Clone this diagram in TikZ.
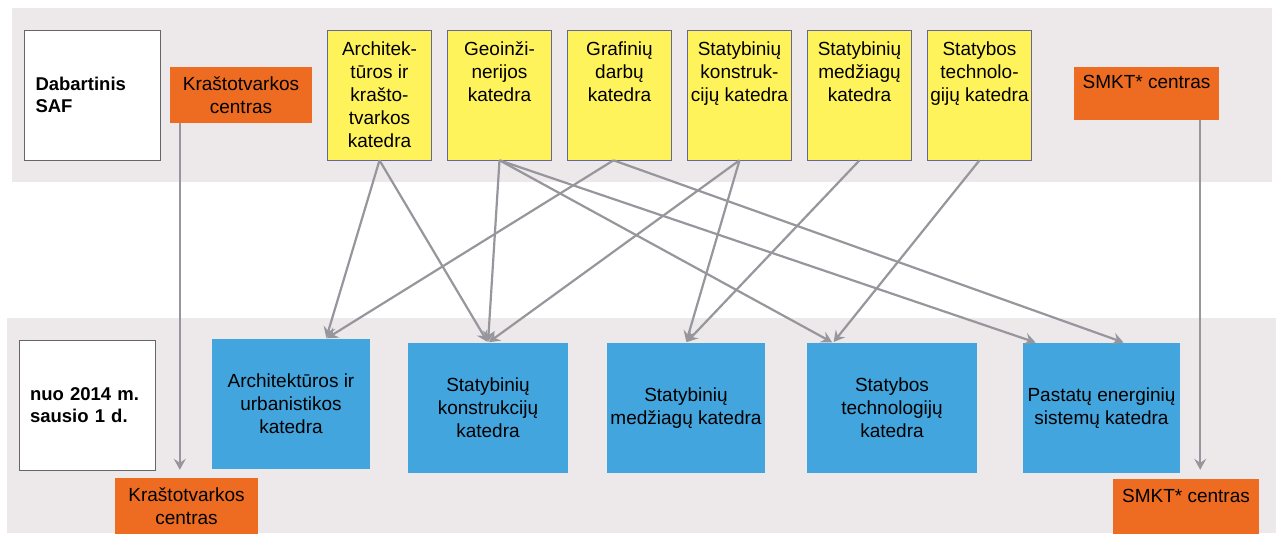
\documentclass[tikz,border=0pt]{standalone}
\usepackage{fontspec}
\setmainfont{Liberation Sans}
\usepackage{tikz}
\usetikzlibrary{arrows.meta}

\definecolor{bandgray}{RGB}{237,233,235}
\definecolor{katyellow}{RGB}{255,243,92}
\definecolor{centorange}{RGB}{238,108,34}
\definecolor{katblue}{RGB}{66,165,221}
\definecolor{flowgray}{RGB}{150,150,156}

\begin{document}
\begin{tikzpicture}[x=1pt,y=-1pt,->,>={Stealth[length=11pt,width=12pt,inset=4pt]},shorten >=1pt,node distance=120pt,
  every node/.style={font=\fontsize{19}{23}\selectfont},
  yellow node/.style={draw=gray!80!blue,line width=0.6pt,fill=katyellow,minimum width=104pt,minimum height=130pt,inner sep=0pt,align=center},
  blue node/.style={fill=katblue,minimum width=#1,minimum height=130pt,inner sep=0pt,align=center},
  orange node/.style={fill=centorange,minimum width=#1,minimum height=56pt,inner sep=0pt,align=center},
  date node/.style={draw=gray!80!black,line width=0.6pt,fill=white,minimum height=130pt,inner xsep=11pt,text width=114pt,align=left,font=\fontsize{18.5}{22}\selectfont\bfseries},
  flow/.style={flowgray,line width=2.2pt}]
  \useasboundingbox (0,0) rectangle (1285,533);
  \fill[bandgray,-] (12,8) rectangle (1272,182);
  \fill[bandgray,-] (7,318) rectangle (1276,533);

  \node[date node] (saf) at (92.5,95) {Dabartinis\\SAF};
  \node[orange node=142pt] (kTop) at (241,95) {Kraštotvarkos\\centras};
  \node[yellow node] (y1) at (379.5,95) {Architek-\\tūros ir\\krašto-\\tvarkos\\katedra};
  \node[yellow node] (y2) [right of=y1] {Geoinži-\\nerijos\\katedra\\\mbox{}\\\mbox{}};
  \node[yellow node] (y3) [right of=y2] {Grafinių\\darbų\\katedra\\\mbox{}\\\mbox{}};
  \node[yellow node] (y4) [right of=y3] {Statybinių\\konstruk-\\cijų katedra\\\mbox{}\\\mbox{}};
  \node[yellow node] (y5) [right of=y4] {Statybinių\\medžiagų\\katedra\\\mbox{}\\\mbox{}};
  \node[yellow node] (y6) [right of=y5] {Statybos\\technolo-\\gijų katedra\\\mbox{}\\\mbox{}};
  \node[orange node=145pt,minimum height=53pt] (sTop) at (1146.5,93.5) {SMKT* centras\\\mbox{}};

  \node[date node] (date) at (87,405) {nuo 2014 m.\\sausio 1 d.};
  \node[blue node=158pt] (b1) at (291,404) {Architektūros ir\\urbanistikos\\katedra};
  \node[blue node=160pt] (b2) at (488,408) {Statybinių\\konstrukcijų\\katedra};
  \node[blue node=158pt] (b3) at (686,408) {Statybinių\\medžiagų katedra};
  \node[blue node=170pt] (b4) at (892,408) {Statybos\\technologijų\\katedra};
  \node[blue node=157pt] (b5) at (1101.5,408) {Pastatų energinių\\sistemų katedra};
  \node[orange node=143pt] (kBot) at (186.5,506) {Kraštotvarkos\\centras};
  \node[orange node=146pt] (sBot) at (1186,507) {SMKT* centras\\\mbox{}};

  \coordinate (kStart) at ([xshift=10pt]kTop.south west);
  \coordinate (sStart) at ([xshift=-19pt]sTop.south east);

  \path[flow]
  (kStart) edge[shorten >=8pt] (kStart |- kBot.north)
  (sStart) edge[shorten >=9pt] (sStart |- sBot.north)
  (y1.south) edge ([xshift=35pt]b1.north)
  (y1.south) edge (b2.north)
  (y2.south) edge (b2.north)
  (y2.south) edge ([xshift=-59pt]b4.north)
  (y2.south) edge ([xshift=-65pt]b5.north)
  ([xshift=-6pt]y3.south) edge ([xshift=35pt]b1.north)
  ([xshift=-6pt]y3.south) edge ([xshift=23pt]b5.north)
  (y4.south) edge (b2.north)
  (y4.south) edge (b3.north)
  (y5.south) edge (b3.north)
  (y6.south) edge ([xshift=-59pt]b4.north);
\end{tikzpicture}
\end{document}
